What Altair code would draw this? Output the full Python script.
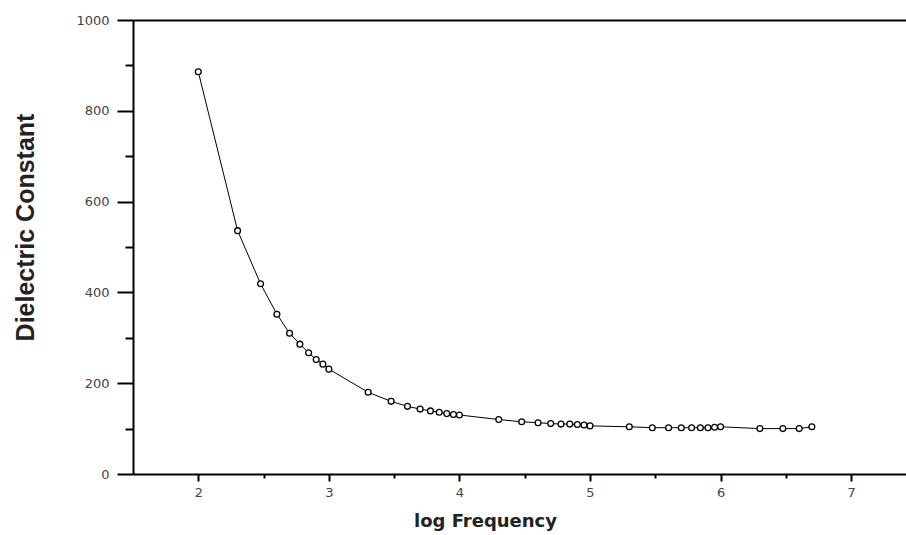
import altair as alt
import pandas as pd

log_freq = [2.0, 2.301, 2.477, 2.602, 2.699, 2.778, 2.845, 2.903, 2.954, 3.0,
            3.301, 3.477, 3.602, 3.699, 3.778, 3.845, 3.903, 3.954, 4.0,
            4.301, 4.477, 4.602, 4.699, 4.778, 4.845, 4.903, 4.954, 5.0,
            5.301, 5.477, 5.602, 5.699, 5.778, 5.845, 5.903, 5.954, 6.0,
            6.301, 6.477, 6.602, 6.699]
dielectric = [886, 536, 419, 352, 310, 286, 267, 252, 242, 231,
              180, 160, 149, 143, 139, 136, 133, 131, 130,
              120, 115, 113, 111, 110, 110, 109, 108, 106,
              104, 102, 102, 102, 102, 102, 102, 103, 104,
              100, 100, 100, 104]

x_major = [2, 3, 4, 5, 6, 7]
x_minor = [2.5, 3.5, 4.5, 5.5, 6.5]
y_major = [0, 200, 400, 600, 800, 1000]
y_minor = [100, 300, 500, 700, 900]

df = pd.DataFrame({"x": log_freq, "y": dielectric})

xscale = alt.Scale(domain=[1.5, 7.42], nice=False, zero=False)
yscale = alt.Scale(domain=[0, 1000], nice=False)

common = dict(grid=False, domainColor="black", tickColor="black",
              labelFont="DejaVu Sans", labelFontSize=13, labelColor="#444",
              format="d")

line = alt.Chart(df).mark_line(color="black", strokeWidth=1).encode(
    x=alt.X("x:Q", scale=xscale,
            axis=alt.Axis(orient="bottom", values=x_major, tickSize=7, tickWidth=2,
                          domainWidth=2, labelPadding=5, title="log Frequency",
                          titleFont="DejaVu Sans", titleFontWeight="bold",
                          titleFontSize=18, titleColor="#222",
                          titleX=352, titleY=47, titleBaseline="middle",
                          titleAnchor="start", titleAlign="center", **common)),
    y=alt.Y("y:Q", scale=yscale,
            axis=alt.Axis(orient="left", values=y_major, tickSize=16, tickWidth=2,
                          domainWidth=2, labelPadding=8, title="Dielectric Constant",
                          titleFont="Liberation Sans",
                          titleFontWeight="bold", titleFontSize=25, titleColor="#222",
                          titleX=-108, titleY=207, titleBaseline="middle",
                          titleAngle=270, titleAlign="center", titleAnchor="start",
                          **common)),
)

pts = alt.Chart(df).mark_point(shape="circle", filled=False, fill="white",
                               fillOpacity=1, color="black", size=34,
                               strokeWidth=1.3, opacity=1).encode(
    x=alt.X("x:Q", scale=xscale,
            axis=alt.Axis(orient="bottom", values=x_minor, tickSize=4, tickWidth=2,
                          labels=False, domain=False, title=None, **common)),
    y=alt.Y("y:Q", scale=yscale,
            axis=alt.Axis(orient="left", values=y_minor, tickSize=8, tickWidth=2,
                          labels=False, domain=False, title=None, **common)),
)

top = alt.Chart(df).mark_line(opacity=0).encode(
    x=alt.X("x:Q", scale=xscale,
            axis=alt.Axis(orient="top", ticks=False, labels=False, domainWidth=2,
                          title=None, **common)),
    y=alt.Y("y:Q", scale=yscale, axis=None),
)

chart = alt.layer(line, pts, top).resolve_axis(x="independent", y="independent").properties(
    width=773, height=454,
    autosize=alt.AutoSizeParams(type="none"),
    padding={"left": 133, "top": 20, "right": 0, "bottom": 61},
    background="white",
).configure_view(stroke=None).configure_axis(grid=False)

chart.save("out.html", embed_options={"renderer": "svg", "actions": False})
